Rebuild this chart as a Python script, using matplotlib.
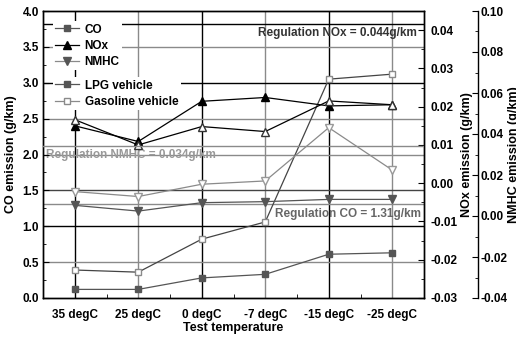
import matplotlib
matplotlib.use("Agg")
import matplotlib.pyplot as plt
from matplotlib.ticker import MultipleLocator, FormatStrFormatter
from matplotlib.lines import Line2D

plt.rcParams['font.family'] = ['Liberation Sans', 'DejaVu Sans']
plt.rcParams['font.weight'] = 'bold'
plt.rcParams['axes.labelweight'] = 'bold'
plt.rcParams['font.size'] = 8.5

# data
temps = ['35 degC', '25 degC', '0 degC', '-7 degC', '-15 degC', '-25 degC']
co_lpg = [0.12, 0.12, 0.28, 0.33, 0.61, 0.63]
co_gas = [0.39, 0.36, 0.82, 1.06, 3.05, 3.12]
nox_lpg = [0.0150, 0.0109, 0.0214, 0.0224, 0.0202, 0.0205]
nox_gas = [0.0166, 0.0100, 0.0148, 0.0135, 0.0215, 0.0205]
nmhc_lpg = [0.0052, 0.0024, 0.0065, 0.0070, 0.0081, 0.0081]
nmhc_gas = [0.0119, 0.0095, 0.0155, 0.0171, 0.0431, 0.0224]

reg_nox = 0.0417   # drawn position of the 0.044 line
reg_nmhc = 0.034
reg_co = 1.31

DARK = '#555555'
GRAY = '#8a8a8a'

fig = plt.figure(figsize=(5.16, 3.37), dpi=100)
ax = fig.add_axes([43/516, 1-298/337, 381/516, 287/337])
ax2 = ax.twinx()
ax3 = ax.twinx()
ax3.spines['right'].set_position(('axes', (478-43)/381))
for a in (ax2, ax3):
    a.patch.set_visible(False)

x = list(range(len(temps)))

# grid lines drawn by hand, alternating colours
for i in x:
    ax.axvline(i, color='black' if i % 2 == 0 else GRAY, lw=1.0, zorder=0)
grid_y = [0.5, 1.0, 1.5, 2.0, 2.5, 3.0, 3.5]
grid_c = [GRAY, 'black', '#444444', GRAY, GRAY, 'black', GRAY]
for yv, c in zip(grid_y, grid_c):
    ax.axhline(yv, color=c, lw=1.0, zorder=0)
ax.axhline(reg_co, color=GRAY, lw=1.0, zorder=0)
ax2.axhline(reg_nox, color='black', lw=1.0, zorder=0)
ax3.axhline(reg_nmhc, color=GRAY, lw=1.0, zorder=0)

ax.text(5.45, reg_co - 0.05, 'Regulation CO = 1.31g/km', ha='right', va='top',
        color='#666666', fontsize=8.5)
ax.text(-0.45, 1.99, 'Regulation NMHC = 0.034g/km', ha='left', va='center',
        color='#999999', fontsize=8.5, zorder=0.5)
ax2.text(5.38, reg_nox - 0.0008, 'Regulation NOx = 0.044g/km', ha='right', va='top',
         color='#333333', fontsize=8.5)

# CO
ax.plot(x, co_lpg, '-s', color=DARK, lw=0.9, ms=4.5, mfc=DARK, mec=DARK, zorder=3)
ax.plot(x, co_gas, '-s', color='#444444', lw=0.9, ms=5, mfc='white', mec=GRAY, zorder=3)
# NOx
ax2.plot(x, nox_lpg, '-^', color='black', lw=0.9, ms=5.5, mfc='black', mec='black', zorder=3)
ax2.plot(x, nox_gas, '-^', color='black', lw=0.9, ms=6, mfc='white', mec='#333333', zorder=3)
# NMHC
ax3.plot(x, nmhc_lpg, '-v', color=DARK, lw=0.9, ms=5.5, mfc=DARK, mec=DARK, zorder=3)
ax3.plot(x, nmhc_gas, '-v', color=GRAY, lw=0.9, ms=6, mfc='white', mec='#999999', zorder=3)

ax.set_xlim(-0.5, 5.5)
ax.set_ylim(0, 4.0)
ax2.set_ylim(-0.03, 0.045)
ax3.set_ylim(-0.04, 0.10)

ax.set_xticks(x)
ax.set_xticklabels(temps)
ax.xaxis.set_minor_locator(MultipleLocator(0.5))
ax.yaxis.set_major_locator(MultipleLocator(0.5))
ax.yaxis.set_minor_locator(MultipleLocator(0.25))
ax.yaxis.set_major_formatter(FormatStrFormatter('%.1f'))
ax2.yaxis.set_major_locator(MultipleLocator(0.01))
ax2.yaxis.set_minor_locator(MultipleLocator(0.005))
ax2.yaxis.set_major_formatter(FormatStrFormatter('%.2f'))
ax3.yaxis.set_major_locator(MultipleLocator(0.02))
ax3.yaxis.set_minor_locator(MultipleLocator(0.01))
ax3.yaxis.set_major_formatter(FormatStrFormatter('%.2f'))

ax.tick_params(axis='both', which='both', direction='in', top=False)
ax.tick_params(axis='x', which='major', length=0, pad=8)
ax.tick_params(axis='x', which='minor', length=3)
ax.tick_params(axis='y', which='major', length=4, pad=3)
ax.tick_params(axis='y', which='minor', length=2)
ax2.tick_params(axis='y', which='both', direction='in', pad=5)
ax2.tick_params(axis='y', which='major', length=4)
ax2.tick_params(axis='y', which='minor', length=2)
ax3.tick_params(axis='y', which='both', direction='in', pad=2)
ax3.tick_params(axis='y', which='major', length=4)
ax3.tick_params(axis='y', which='minor', length=2)
for a in (ax, ax2, ax3):
    for s in a.spines.values():
        s.set_linewidth(1.0)
ax3.spines['left'].set_visible(False)
ax3.spines['top'].set_visible(False)
ax3.spines['bottom'].set_visible(False)

ax.set_xlabel('Test temperature', fontsize=9, labelpad=1)
ax.set_ylabel('CO emission (g/km)', fontsize=9, labelpad=4)
ax2.set_ylabel('NOx emission (g/km)', fontsize=9, labelpad=2)
ax3.set_ylabel('NMHC emission (g/km)', fontsize=9, labelpad=0)

# legends
h1 = [Line2D([], [], color=DARK, marker='s', ms=4.5, lw=0.9),
      Line2D([], [], color='black', marker='^', ms=5.5, lw=0.9),
      Line2D([], [], color=GRAY, marker='v', ms=5.5, mfc=DARK, mec=DARK, lw=0.9)]
h2 = [Line2D([], [], color=DARK, marker='s', ms=4.5, lw=0.9),
      Line2D([], [], color=GRAY, marker='s', ms=4.5, mfc='white', mec=GRAY, lw=0.9)]
leg1 = ax3.legend(h1, ['CO', 'NOx', 'NMHC'], loc='upper left', bbox_to_anchor=(0.01, 0.985),
                  frameon=True, fancybox=False, edgecolor='none', framealpha=1,
                  handlelength=2.0, handletextpad=0.5, labelspacing=0.35,
                  borderpad=0.2, fontsize=8.5)
ax3.add_artist(leg1)
leg2 = ax3.legend(h2, ['LPG vehicle', 'Gasoline vehicle'], loc='upper left',
                  bbox_to_anchor=(0.01, 0.79), frameon=True, fancybox=False,
                  edgecolor='none', framealpha=1, handlelength=2.0,
                  handletextpad=0.5, labelspacing=0.35, borderpad=0.2, fontsize=8.5)

fig.savefig('out.png', dpi=100)
